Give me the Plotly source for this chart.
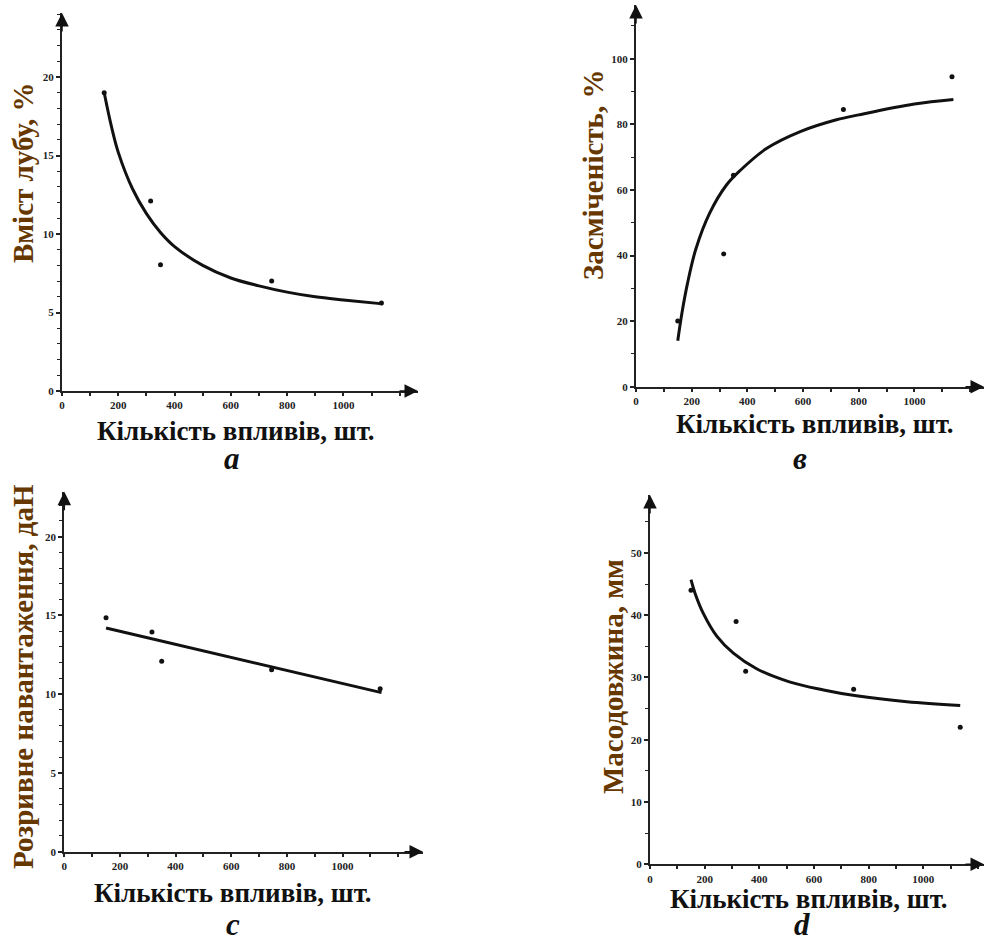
import plotly.graph_objects as go

# ---- data ----
x_obs = [150, 315, 350, 745, 1135]

luby_obs = [19.0, 12.1, 8.05, 7.0, 5.6]           # a: Вміст лубу, %
zasm_obs = [20.0, 40.5, 64.5, 84.5, 94.5]         # в: Засміченість, %
rozr_obs = [14.85, 13.95, 12.1, 11.55, 10.35]     # c: Розривне навантаження, даН
maso_obs = [44.0, 39.0, 31.0, 28.1, 22.0]         # d: Масодовжина, мм

luby_fit_x = [150, 175, 200, 250, 300, 350, 400, 500, 600, 700, 800, 900, 1000, 1140]
luby_fit_y = [19.0, 16.9, 15.2, 12.9, 11.3, 10.1, 9.2, 8.0, 7.2, 6.7, 6.3, 6.0, 5.8, 5.55]

zasm_fit_x = [150, 165, 185, 215, 265, 325, 375, 470, 590, 720, 800, 1000, 1140]
zasm_fit_y = [14.0, 22.5, 31.5, 42.0, 53.0, 61.5, 66.0, 72.7, 77.8, 81.4, 82.9, 86.2, 87.6]

rozr_fit_x = [150, 1140]
rozr_fit_y = [14.2, 10.1]

maso_fit_x = [150, 165, 195, 245, 305, 390, 510, 635, 755, 940, 1135]
maso_fit_y = [45.7, 43.5, 40.3, 36.6, 33.9, 31.4, 29.3, 28.0, 27.05, 26.1, 25.5]

x_title = "Кількість впливів, шт."
y_titles = ["Вміст лубу, %", "Засміченість, %", "Розривне навантаження, даН", "Масодовжина, мм"]
letters = ["a", "в", "c", "d"]

W, H = 984, 942

def px(xp):
    return xp / W

def py(yp):
    return 1 - yp / H

# panel geometry in pixels: (x_left, x_right, y_bottom, y_top), ranges, ticks
panels = [
    dict(xl=62, xr=418, yb=391, yt=13, xmax=1265, ymax=24.08, dy=5, mdy=1,
         obs=luby_obs, fx=luby_fit_x, fy=luby_fit_y, spline=True,
         ytx=23, yty=173, xtx=236, xty=431, lx=232, ly=478),
    dict(xl=636, xr=984, yb=386.7, yt=5, xmax=1250, ymax=116.4, dy=20, mdy=10,
         obs=zasm_obs, fx=zasm_fit_x, fy=zasm_fit_y, spline=True,
         ytx=593, yty=175, xtx=815, xty=424, lx=800, ly=478),
    dict(xl=64.3, xr=423, yb=851.7, yt=491.7, xmax=1289, ymax=22.86, dy=5, mdy=1,
         obs=rozr_obs, fx=rozr_fit_x, fy=rozr_fit_y, spline=False,
         ytx=23, yty=677, xtx=233, xty=893, lx=233, ly=944),
    dict(xl=650, xr=984, yb=864.3, yt=495, xmax=1222, ymax=59.3, dy=10, mdy=5,
         obs=maso_obs, fx=maso_fit_x, fy=maso_fit_y, spline=True,
         ytx=613, yty=677, xtx=809, xty=899, lx=802, ly=944),
]

fig = go.Figure()
layout = dict(width=W, height=H, margin=dict(l=0, r=0, t=0, b=0, autoexpand=False),
              paper_bgcolor="white", plot_bgcolor="white", showlegend=False)
annotations = []

tickfont = dict(family="Liberation Serif", size=11, color="#222", weight="bold")
axis_col = "#222"

for i, p in enumerate(panels):
    n = "" if i == 0 else str(i + 1)
    xa, ya = "x" + n, "y" + n
    fig.add_trace(go.Scatter(x=p["fx"], y=p["fy"], mode="lines", xaxis=xa, yaxis=ya,
                             line=dict(color="#111", width=3,
                                       shape="spline" if p["spline"] else "linear"),
                             hoverinfo="skip"))
    fig.add_trace(go.Scatter(x=x_obs, y=p["obs"], mode="markers", xaxis=xa, yaxis=ya,
                             marker=dict(color="#111", size=5)))
    layout["xaxis" + n] = dict(
        domain=[px(p["xl"]), px(p["xr"])], range=[0, p["xmax"]], anchor=ya,
        showgrid=False, zeroline=False, showline=True, linecolor=axis_col, linewidth=2,
        tickmode="array", tickvals=[0, 200, 400, 600, 800, 1000],
        ticks="outside", ticklen=3, tickwidth=1.5, tickcolor=axis_col,
        minor=dict(dtick=100, ticks="outside", ticklen=3, tickwidth=1.5, tickcolor=axis_col),
        tickfont=tickfont, fixedrange=True, automargin=False)
    layout["yaxis" + n] = dict(
        domain=[py(p["yb"]), py(p["yt"])], range=[0, p["ymax"]], anchor=xa,
        showgrid=False, zeroline=False, showline=True, linecolor=axis_col, linewidth=2,
        dtick=p["dy"], tick0=0,
        ticks="outside", ticklen=4, tickwidth=1.5, tickcolor=axis_col,
        minor=dict(dtick=p["mdy"], ticks="outside", ticklen=3, tickwidth=1, tickcolor=axis_col),
        tickfont=tickfont, fixedrange=True, automargin=False)
    # arrow heads
    annotations.append(dict(x=p["xmax"], y=0, xref=xa, yref=ya, ax=-20, ay=0,
                            text="", showarrow=True, arrowhead=2, arrowsize=1.8,
                            arrowwidth=1.5, arrowcolor="#111", standoff=0))
    annotations.append(dict(x=0, y=p["ymax"], xref=xa, yref=ya, ax=0, ay=20,
                            text="", showarrow=True, arrowhead=2, arrowsize=1.8,
                            arrowwidth=1.5, arrowcolor="#111", standoff=0))
    # titles
    annotations.append(dict(x=px(p["ytx"]), y=py(p["yty"]), xref="paper", yref="paper",
                            text=y_titles[i], textangle=-90, showarrow=False,
                            xanchor="center", yanchor="middle",
                            font=dict(family="Liberation Serif", size=29, color="#663800",
                                      weight="bold")))
    annotations.append(dict(x=px(p["xtx"]), y=py(p["xty"]), xref="paper", yref="paper",
                            text=x_title, showarrow=False, xanchor="center", yanchor="middle",
                            font=dict(family="Liberation Serif", size=27, color="#111",
                                      weight="bold")))
    annotations.append(dict(x=px(p["lx"]), y=py(p["ly"]), xref="paper", yref="paper",
                            text=letters[i], showarrow=False, xanchor="center", yanchor="bottom",
                            font=dict(family="Liberation Serif", size=31, color="#111",
                                      weight="bold", style="italic")))

layout["annotations"] = annotations
fig.update_layout(**layout)
fig.write_html("out.html", config={"displayModeBar": False},
               post_script="document.body.style.margin='0px';")
